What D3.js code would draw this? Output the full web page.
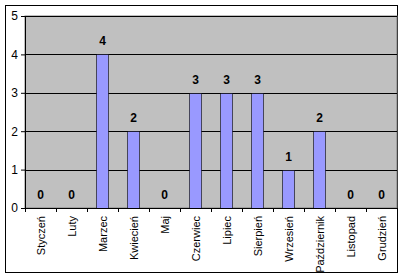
<!DOCTYPE html>
<html lang="pl">
<head>
	<meta charset="utf-8"/>
	<title>Miesiące</title>
	<script src="https://d3js.org/d3.v7.min.js"></script>
	<style>
		body { margin: 0; background: #fff; }
		text { font-family: "Liberation Sans", Arial, sans-serif; }
		.axis .domain { display: none; }
	</style>
</head>
<body>
<div id="chart"></div>
<script>
	// data
	var months = ["Styczeń", "Luty", "Marzec", "Kwiecień", "Maj", "Czerwiec",
		"Lipiec", "Sierpień", "Wrzesień", "Październik", "Listopad", "Grudzień"];
	var counts = [0, 0, 4, 2, 0, 3, 3, 3, 1, 2, 0, 0];
	var yTicks = [0, 1, 2, 3, 4, 5];

	var width = 404, height = 278;
	var m = {top: 16, right: 7, bottom: 70, left: 25};
	var w = width - m.left - m.right,
		h = height - m.top - m.bottom;

	var svg = d3.select("#chart").append("svg")
		.attr("width", width)
		.attr("height", height);

	// outer chart border
	svg.append("rect")
		.attr("x", 5.5).attr("y", 5.5)
		.attr("width", 392).attr("height", 267)
		.attr("fill", "#fff").attr("stroke", "#000");

	var g = svg.append("g").attr("transform", "translate(" + m.left + "," + m.top + ")");

	var x = d3.scaleBand().domain(months).range([0, w]).paddingInner(0.61).paddingOuter(0.305);
	var xb = d3.scaleBand().domain(months).range([0, w]);
	var y = d3.scaleLinear().domain([0, 5]).range([h, 0]);

	// plot area
	g.append("rect")
		.attr("width", w).attr("height", h)
		.attr("fill", "#c0c0c0")
		.attr("stroke", "#808080");

	// gridlines
	g.append("g").selectAll("line")
		.data(yTicks.slice(1))
		.enter().append("line")
		.attr("x1", 0).attr("x2", w)
		.attr("y1", function(d) { return Math.round(y(d)) + 0.5; })
		.attr("y2", function(d) { return Math.round(y(d)) + 0.5; })
		.attr("stroke", "#000");

	// bars
	g.append("g").selectAll("rect")
		.data(counts)
		.enter().append("rect")
		.attr("x", function(d, i) { return Math.round(x(months[i])) + 0.5; })
		.attr("y", function(d) { return Math.round(y(d)) + 0.5; })
		.attr("width", Math.round(x.bandwidth()))
		.attr("height", function(d) { return Math.round(y(0)) - Math.round(y(d)); })
		.attr("fill", "#9999ff")
		.attr("stroke", "#000")
		.attr("stroke-width", 0.6);

	// value labels
	g.append("g").selectAll("text")
		.data(counts)
		.enter().append("text")
		.attr("x", function(d, i) { return x(months[i]) + x.bandwidth() / 2; })
		.attr("y", function(d) { return y(d) - 9; })
		.attr("text-anchor", "middle")
		.attr("font-size", 12)
		.attr("font-weight", "bold")
		.text(function(d) { return d; });

	// x axis line
	g.append("line")
		.attr("x1", 0).attr("x2", w)
		.attr("y1", Math.round(y(0)) + 0.5).attr("y2", Math.round(y(0)) + 0.5)
		.attr("stroke", "#000");
	// y axis line
	g.append("line")
		.attr("x1", 0.5).attr("x2", 0.5)
		.attr("y1", 0).attr("y2", h)
		.attr("stroke", "#000");

	// x ticks at band boundaries
	g.append("g").selectAll("line")
		.data(months.concat([null]))
		.enter().append("line")
		.attr("x1", function(d, i) { return Math.round(i * xb.step()) + 0.5; })
		.attr("x2", function(d, i) { return Math.round(i * xb.step()) + 0.5; })
		.attr("y1", h).attr("y2", h + 4)
		.attr("stroke", "#000");

	// x labels, rotated
	g.append("g").selectAll("text")
		.data(months)
		.enter().append("text")
		.attr("transform", function(d) {
			return "translate(" + (xb(d) + xb.bandwidth() / 2 + 4) + "," + (h + 8) + ") rotate(-90)";
		})
		.attr("text-anchor", "end")
		.attr("font-size", 11)
		.text(function(d) { return d; });

	// y axis
	g.append("g")
		.attr("class", "axis")
		.call(d3.axisLeft(y).tickValues(yTicks).tickSize(4).tickPadding(3).tickFormat(d3.format("d")))
		.call(function(a) {
			a.selectAll("text").attr("font-size", 12).attr("font-family", "Liberation Sans, Arial, sans-serif").attr("fill", "#000");
			a.selectAll("line").attr("stroke", "#000");
		});
</script>
</body>
</html>
